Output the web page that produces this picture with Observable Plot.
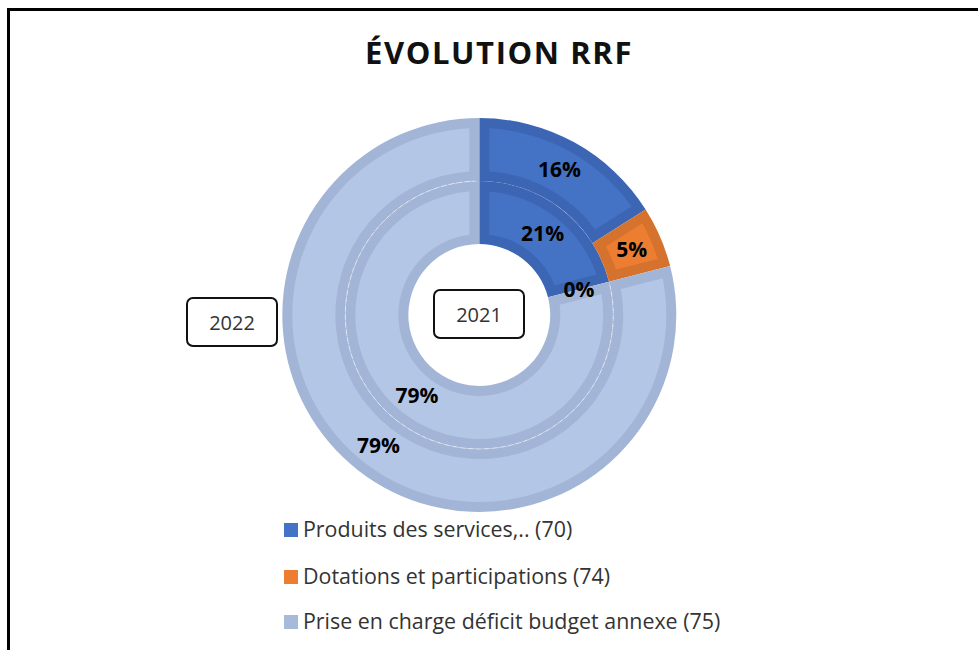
<!DOCTYPE html>
<html><head><meta charset="utf-8">
<script src="https://cdn.jsdelivr.net/npm/d3@7"></script>
<script src="https://cdn.jsdelivr.net/npm/@observablehq/plot@0.6"></script>
<style>
body{margin:0;background:#fff;font-family:"Open Sans",sans-serif;}
#wrap{position:relative;width:978px;height:650px;overflow:hidden;background:#fff;}
#frame{position:absolute;left:7px;top:8px;width:1000px;height:700px;border-left:3px solid #000;border-top:3px solid #000;}
#title{position:absolute;left:10px;width:978px;top:33px;text-align:center;font-weight:700;font-size:31px;letter-spacing:1.6px;color:#111;line-height:38px;}
#chart{position:absolute;left:0;top:95px;}
.yearbox{position:absolute;border:2px solid #111;border-radius:7px;box-sizing:border-box;display:flex;align-items:center;justify-content:center;font-size:20px;color:#333;background:#fff;}
.sw{position:absolute;width:14px;height:14px;}
.lt{position:absolute;font-size:21.4px;color:#333;line-height:28px;white-space:nowrap;}
</style></head>
<body>
<div id="wrap">
  <div id="frame"></div>
  <div id="title">ÉVOLUTION RRF</div>
  <div id="chart"></div>
  <div id="legend"></div>
</div>
<script>
// ---- data ----
const categories = ["Produits des services,.. (70)", "Dotations et participations (74)", "Prise en charge déficit budget annexe (75)"];
const years = ["2021", "2022"];
const values2021 = [21, 0, 79];
const values2022 = [16, 5, 79];
const fillColors = ["#4472C4", "#ED7D31", "#B3C6E6"];
const bandColors = ["#3C66B4", "#D5722D", "#A3B5D6"];
const legendColors = ["#4472C4", "#ED7D31", "#A8BADA"];

// ---- rings (inner: 2021, outer: 2022) ----
const ringRadii = {"2021": [0.36, 0.68], "2022": [0.68, 1.0]};
const ringValues = {"2021": values2021, "2022": values2022};
const pie = d3.pie().sort(null).value(d => d.value);
const slices = [];
for (const yr of years) {
  const rows = categories.map((c, i) => ({year: yr, category: c, i, value: ringValues[yr][i]}));
  const arcs = pie(rows);
  const [r0, r1] = ringRadii[yr];
  arcs.forEach(a => {
    const mid = (a.startAngle + a.endAngle) / 2;
    const rm = (r0 + r1) / 2;
    slices.push({...a.data, startAngle: a.startAngle, endAngle: a.endAngle, r0, r1,
      lx: rm * Math.sin(mid), ly: rm * Math.cos(mid)});
  });
}

function ringMark(index, scales, values, dimensions) {
  const g = d3.create("svg:g");
  const cx0 = scales.x(0), cy0 = scales.y(0);
  const k = scales.x(1) - scales.x(0);
  const band = 10;
  const t = `translate(${cx0},${cy0})`;
  for (const s of slices) {
    if (s.value === 0) continue;
    const full = d3.arc().innerRadius(s.r0 * k).outerRadius(s.r1 * k)
      .startAngle(s.startAngle).endAngle(s.endAngle);
    g.append("path").attr("transform", t).attr("d", full()).attr("fill", bandColors[s.i]);
    const inner = d3.arc().innerRadius(s.r0 * k + band).outerRadius(s.r1 * k - band)
      .startAngle(s.startAngle).endAngle(s.endAngle).padRadius(100).padAngle(2 * band / 100);
    g.append("path").attr("transform", t).attr("d", inner()).attr("fill", fillColors[s.i]);
  }
  // faint dashed boundary between rings on the shared light-blue part
  const lb = slices.filter(s => s.i === 2);
  const a0 = d3.max(lb, s => s.startAngle), a1 = d3.min(lb, s => s.endAngle);
  const line = d3.arc().innerRadius(0.68 * k).outerRadius(0.68 * k).startAngle(a0 + 0.03).endAngle(a1 - 0.03);
  g.append("path").attr("transform", t).attr("d", line()).attr("fill", "none")
    .attr("stroke", "#fff").attr("stroke-opacity", 0.45).attr("stroke-dasharray", "4,4").attr("stroke-width", 1);
  return g.node();
}

const centerX = 479.3, centerY = 315, svgTop = 95, R = 197;
const chart = Plot.plot({
  width: 978, height: 440, margin: 0,
  style: {fontFamily: "Open Sans", background: "transparent"},
  x: {domain: [-1, 1], range: [centerX - R, centerX + R], axis: null},
  y: {domain: [-1, 1], range: [centerY - svgTop + R, centerY - svgTop - R], axis: null},
  marks: [
    ringMark,
    Plot.text(slices, {x: "lx", y: "ly", text: d => d.value + "%", fontWeight: 700, fontSize: 21, fill: "#000", fontFamily: "Open Sans"})
  ]
});
document.getElementById("chart").appendChild(chart);

// year boxes
const wrap = document.getElementById("wrap");
const boxes = [{y: "2022", l: 186, t: 297, w: 92, h: 50}, {y: "2021", l: 433, t: 289, w: 92, h: 50}];
for (const b of boxes) {
  const d = document.createElement("div");
  d.className = "yearbox";
  d.style.left = b.l + "px"; d.style.top = b.t + "px"; d.style.width = b.w + "px"; d.style.height = b.h + "px";
  d.textContent = b.y;
  wrap.appendChild(d);
}
// legend
const rowsY = [530, 577, 622];
categories.forEach((c, i) => {
  const sw = document.createElement("div");
  sw.className = "sw"; sw.style.left = "284px"; sw.style.top = (rowsY[i] - 7) + "px"; sw.style.background = legendColors[i];
  wrap.appendChild(sw);
  const tx = document.createElement("div");
  tx.className = "lt"; tx.style.left = "303px"; tx.style.top = (rowsY[i] - 15) + "px"; tx.textContent = c;
  wrap.appendChild(tx);
});
</script>
</body></html>
